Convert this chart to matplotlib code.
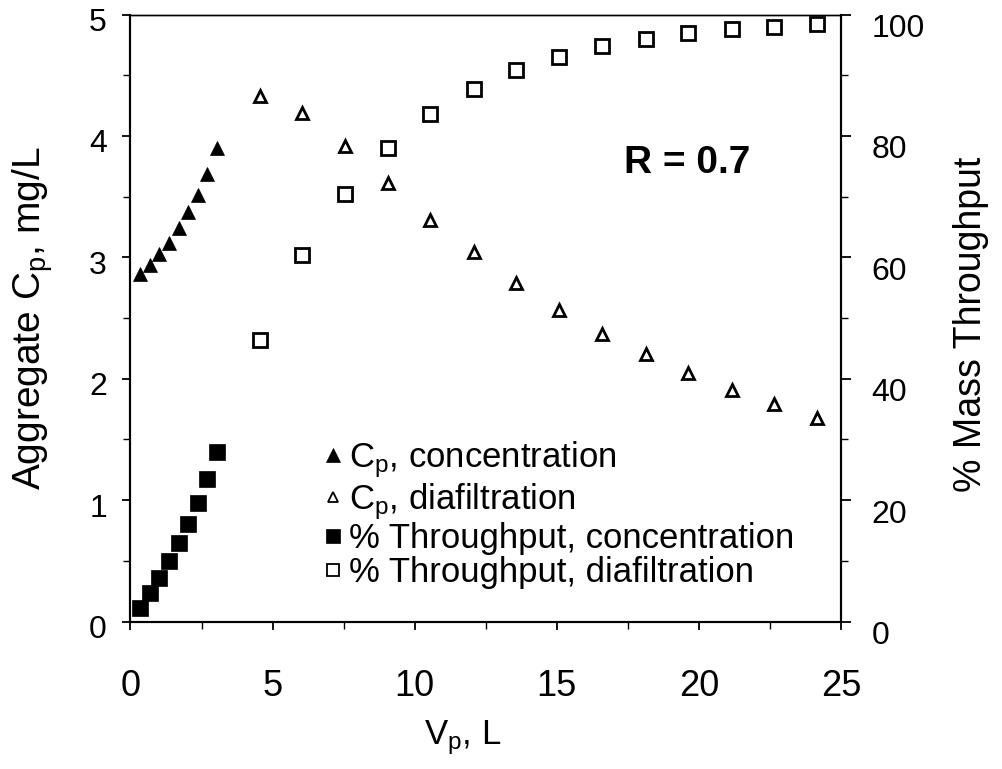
import matplotlib
matplotlib.use("Agg")
import matplotlib.pyplot as plt
from matplotlib.lines import Line2D
from matplotlib.ticker import MultipleLocator
from matplotlib.transforms import ScaledTranslation

plt.rcParams['font.family'] = ['Liberation Sans', 'DejaVu Sans']
plt.rcParams['mathtext.fontset'] = 'custom'
plt.rcParams['mathtext.rm'] = 'Liberation Sans'
plt.rcParams['mathtext.it'] = 'Liberation Sans:italic'

# concentration phase
v_conc = [0.33, 0.68, 1.02, 1.36, 1.70, 2.02, 2.36, 2.70, 3.03]
cp_conc = [2.86, 2.94, 3.03, 3.12, 3.24, 3.37, 3.51, 3.69, 3.90]
thru_conc = [2.3, 4.7, 7.2, 10.0, 12.9, 16.1, 19.5, 23.4, 27.9]

# diafiltration phase
v_dia = [4.55, 6.05, 7.55, 9.05, 10.55, 12.07, 13.57, 15.08, 16.6, 18.13,
         19.63, 21.15, 22.65, 24.15]
cp_dia = [4.33, 4.19, 3.92, 3.61, 3.31, 3.04, 2.79, 2.57, 2.37, 2.20,
          2.05, 1.91, 1.79, 1.68]
thru_dia = [46.4, 60.4, 70.4, 78.0, 83.6, 87.8, 90.9, 93.0, 94.8, 96.0,
            97.0, 97.6, 98.0, 98.4]

labels = ["C$_\\mathregular{p}$, concentration",
          "C$_\\mathregular{p}$, diafiltration",
          "% Throughput, concentration",
          "% Throughput, diafiltration"]

fig = plt.figure(figsize=(10.03, 7.69), dpi=100)
ax = fig.add_axes([130.5 / 1003, 1 - 621.5 / 769, 710.5 / 1003, 607 / 769])
ax2 = ax.twinx()

ax.plot(v_conc, cp_conc, ls='none', marker='^', ms=9.5, mfc='black', mec='black', mew=0.5)
ax.plot(v_dia, cp_dia, ls='none', marker='^', ms=8.5, mfc='white', mec='black', mew=2)
ax2.plot(v_conc, thru_conc, ls='none', marker='s', ms=11, mfc='black', mec='black', mew=0.5)
ax2.plot(v_dia, thru_dia, ls='none', marker='s', ms=10, mfc='white', mec='black', mew=2)

ax.set_xlim(0, 25)
ax.set_ylim(0, 5)
ax2.set_ylim(0, 100)
ax.set_xticks([0, 5, 10, 15, 20, 25])
ax.xaxis.set_minor_locator(MultipleLocator(2.5))
ax.set_yticks([0, 1, 2, 3, 4, 5])
ax.yaxis.set_minor_locator(MultipleLocator(0.5))
ax2.set_yticks([0, 20, 40, 60, 80, 100])
ax2.yaxis.set_minor_locator(MultipleLocator(10))

ax.tick_params(axis='x', which='major', direction='out', length=6, width=1.3, labelsize=26, pad=28)
ax.tick_params(axis='x', which='minor', direction='out', length=5, width=1.0)
ax.tick_params(axis='y', which='major', direction='out', length=6, width=1.3, labelsize=23, pad=11)
ax.tick_params(axis='y', which='minor', direction='out', length=5, width=1.0)
ax2.tick_params(axis='y', which='major', direction='out', length=7, width=1.3, labelsize=23, pad=15)
ax2.tick_params(axis='y', which='minor', direction='out', length=5, width=1.0)

for a in (ax, ax2):
    for side in ('left', 'right', 'bottom'):
        a.spines[side].set_linewidth(1.5)
    a.spines['top'].set_linewidth(1.0)

# tick labels sit a little low in the original
for lab in ax2.get_yticklabels():
    lab.set_transform(lab.get_transform() + ScaledTranslation(0, -11 / 100, fig.dpi_scale_trans))
for lab in ax.get_yticklabels():
    lab.set_transform(lab.get_transform() + ScaledTranslation(0, -5 / 100, fig.dpi_scale_trans))

ax.set_ylabel("Aggregate C$_\\mathregular{p}$, mg/L", fontsize=28)
ax.yaxis.set_label_coords(-0.106, 0.5)
ax2.set_ylabel("% Mass Throughput", fontsize=27)
ax2.yaxis.set_label_coords(1.158, 0.49)
ax.set_xlabel("V$_\\mathregular{p}$, L", fontsize=25, va='top')
ax.xaxis.set_label_coords(0.468, -0.160)

ax.text(19.6, 3.78, "R = 0.7", fontsize=28, fontweight='bold', ha='center', va='center')

handles = [
    Line2D([], [], ls='none', marker='^', ms=10, mfc='black', mec='black', mew=0.5),
    Line2D([], [], ls='none', marker='^', ms=7.5, mfc='white', mec='black', mew=1.3),
    Line2D([], [], ls='none', marker='s', ms=10, mfc='black', mec='black', mew=0.5),
    Line2D([], [], ls='none', marker='s', ms=8.5, mfc='white', mec='black', mew=1.3),
]
ax.legend(handles, labels, loc='upper left', bbox_to_anchor=(0.271, 0.300),
          frameon=False, fontsize=25, handlelength=0.6, handletextpad=0.15,
          borderaxespad=0, borderpad=0, labelspacing=0.02)

fig.savefig("out.png", dpi=100)
